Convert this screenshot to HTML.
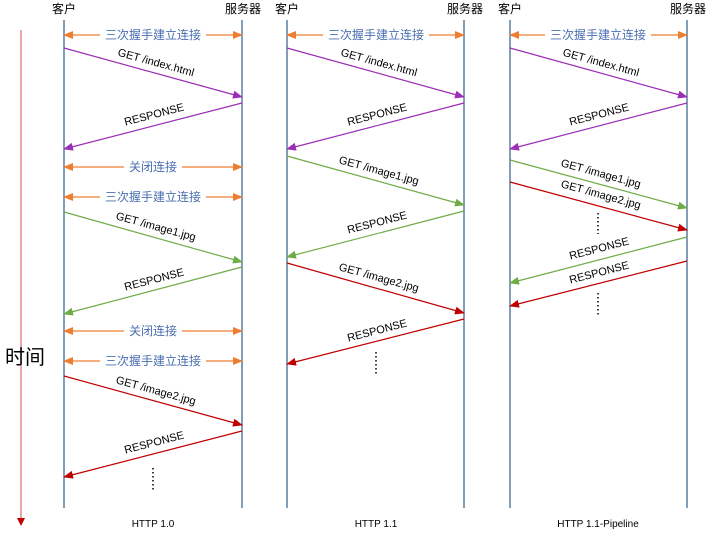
<!DOCTYPE html>
<html><head><meta charset="utf-8"><style>
html,body{margin:0;padding:0;background:#fff;}
svg{display:block;font-family:"Liberation Sans","Noto Sans CJK SC",sans-serif;}
</style></head><body>
<svg width="714" height="540" viewBox="0 0 714 540" xmlns="http://www.w3.org/2000/svg">
<defs>
<marker id="mp" markerWidth="10" markerHeight="8" refX="9" refY="4" orient="auto" markerUnits="userSpaceOnUse"><path d="M0,0L10,4L0,8z" fill="#9b2fb5"/></marker>
<marker id="mg" markerWidth="10" markerHeight="8" refX="9" refY="4" orient="auto" markerUnits="userSpaceOnUse"><path d="M0,0L10,4L0,8z" fill="#6fac46"/></marker>
<marker id="mr" markerWidth="10" markerHeight="8" refX="9" refY="4" orient="auto" markerUnits="userSpaceOnUse"><path d="M0,0L10,4L0,8z" fill="#c00000"/></marker>
<marker id="mo" markerWidth="10" markerHeight="8" refX="9" refY="4" orient="auto-start-reverse" markerUnits="userSpaceOnUse"><path d="M0,0L10,4L0,8z" fill="#ed7d31"/></marker>
<marker id="mt" markerWidth="8" markerHeight="8" refX="4" refY="7" orient="0" markerUnits="userSpaceOnUse"><path d="M0,0L8,0L4,8z" fill="#c00000"/></marker>
</defs>
<line x1="21" y1="30" x2="21" y2="520" stroke="#e08a8a" stroke-width="1.5"/>
<path d="M17,518L25,518L21,526z" fill="#c00000"/>
<text x="5" y="364" font-size="20" fill="#000">时间</text>

<g stroke="#5b7fa0" stroke-width="1.5">
<line x1="64" y1="20" x2="64" y2="508"/><line x1="242" y1="20" x2="242" y2="508"/>
<line x1="287" y1="20" x2="287" y2="508"/><line x1="464" y1="20" x2="464" y2="508"/>
<line x1="510" y1="20" x2="510" y2="508"/><line x1="687" y1="20" x2="687" y2="508"/>
</g>
<g font-size="12" fill="#000" text-anchor="middle">
<text x="64" y="13">客户</text><text x="243" y="13">服务器</text>
<text x="287" y="13">客户</text><text x="465" y="13">服务器</text>
<text x="510" y="13">客户</text><text x="688" y="13">服务器</text>
</g>
<g font-size="10" fill="#000" text-anchor="middle">
<text x="153" y="527">HTTP 1.0</text><text x="376" y="527">HTTP 1.1</text><text x="598" y="527">HTTP 1.1-Pipeline</text>
</g>

<!-- orange double arrows -->
<g stroke="#ed7d31" stroke-width="1.2" fill="none">
<line x1="64" y1="35" x2="242" y2="35" marker-start="url(#mo)" marker-end="url(#mo)"/>
<line x1="64" y1="167" x2="242" y2="167" marker-start="url(#mo)" marker-end="url(#mo)"/>
<line x1="64" y1="197" x2="242" y2="197" marker-start="url(#mo)" marker-end="url(#mo)"/>
<line x1="64" y1="331" x2="242" y2="331" marker-start="url(#mo)" marker-end="url(#mo)"/>
<line x1="64" y1="361" x2="242" y2="361" marker-start="url(#mo)" marker-end="url(#mo)"/>
<line x1="287" y1="35" x2="464" y2="35" marker-start="url(#mo)" marker-end="url(#mo)"/>
<line x1="510" y1="35" x2="687" y2="35" marker-start="url(#mo)" marker-end="url(#mo)"/>
</g>
<g font-size="12" fill="#4a6fb0" text-anchor="middle">
<rect x="100" y="27" width="106" height="16" fill="#fff"/><text x="153" y="39">三次握手建立连接</text>
<rect x="124" y="159" width="58" height="16" fill="#fff"/><text x="153" y="171">关闭连接</text>
<rect x="100" y="189" width="106" height="16" fill="#fff"/><text x="153" y="201">三次握手建立连接</text>
<rect x="124" y="323" width="58" height="16" fill="#fff"/><text x="153" y="335">关闭连接</text>
<rect x="100" y="353" width="106" height="16" fill="#fff"/><text x="153" y="365">三次握手建立连接</text>
<rect x="323" y="27" width="106" height="16" fill="#fff"/><text x="376" y="39">三次握手建立连接</text>
<rect x="545" y="27" width="106" height="16" fill="#fff"/><text x="598" y="39">三次握手建立连接</text>
</g>

<g stroke-width="1.2" fill="none">
<!-- col1 -->
<line x1="64" y1="48" x2="242" y2="97" stroke="#9b2fb5" marker-end="url(#mp)"/>
<line x1="242" y1="103" x2="64" y2="149" stroke="#9b2fb5" marker-end="url(#mp)"/>
<line x1="64" y1="212" x2="242" y2="262" stroke="#6fac46" marker-end="url(#mg)"/>
<line x1="242" y1="267" x2="64" y2="314" stroke="#6fac46" marker-end="url(#mg)"/>
<line x1="64" y1="376" x2="242" y2="425" stroke="#c00000" marker-end="url(#mr)"/>
<line x1="242" y1="431" x2="64" y2="477" stroke="#c00000" marker-end="url(#mr)"/>
<!-- col2 -->
<line x1="287" y1="48" x2="464" y2="97" stroke="#9b2fb5" marker-end="url(#mp)"/>
<line x1="464" y1="103" x2="287" y2="149" stroke="#9b2fb5" marker-end="url(#mp)"/>
<line x1="287" y1="156" x2="464" y2="205" stroke="#6fac46" marker-end="url(#mg)"/>
<line x1="464" y1="211" x2="287" y2="257" stroke="#6fac46" marker-end="url(#mg)"/>
<line x1="287" y1="263" x2="464" y2="313" stroke="#c00000" marker-end="url(#mr)"/>
<line x1="464" y1="319" x2="287" y2="364" stroke="#c00000" marker-end="url(#mr)"/>
<!-- col3 -->
<line x1="510" y1="48" x2="687" y2="97" stroke="#9b2fb5" marker-end="url(#mp)"/>
<line x1="687" y1="103" x2="510" y2="149" stroke="#9b2fb5" marker-end="url(#mp)"/>
<line x1="510" y1="160" x2="687" y2="208" stroke="#6fac46" marker-end="url(#mg)"/>
<line x1="510" y1="182" x2="687" y2="230" stroke="#c00000" marker-end="url(#mr)"/>
<line x1="687" y1="237" x2="510" y2="283" stroke="#6fac46" marker-end="url(#mg)"/>
<line x1="687" y1="261" x2="510" y2="306" stroke="#c00000" marker-end="url(#mr)"/>
</g>
<g stroke="#000" stroke-width="1.5" stroke-dasharray="1.5 2.5">
<line x1="153" y1="468" x2="153" y2="491"/>
<line x1="376" y1="352" x2="376" y2="375"/>
<line x1="598" y1="213" x2="598" y2="234"/>
<line x1="598" y1="293" x2="598" y2="316"/>
</g>

<g font-size="11" fill="#000" text-anchor="middle">
<text transform="translate(155,66) rotate(15.4)">GET /index.html</text>
<text transform="translate(155,118) rotate(-14.5)">RESPONSE</text>
<text transform="translate(155,230) rotate(15.4)">GET /image1.jpg</text>
<text transform="translate(155,283) rotate(-14.5)">RESPONSE</text>
<text transform="translate(155,394) rotate(15.4)">GET /image2.jpg</text>
<text transform="translate(155,446) rotate(-14.5)">RESPONSE</text>

<text transform="translate(378,66) rotate(15.4)">GET /index.html</text>
<text transform="translate(378,118) rotate(-14.5)">RESPONSE</text>
<text transform="translate(378,174) rotate(15.4)">GET /image1.jpg</text>
<text transform="translate(378,226) rotate(-14.5)">RESPONSE</text>
<text transform="translate(378,281) rotate(15.4)">GET /image2.jpg</text>
<text transform="translate(378,334) rotate(-14.5)">RESPONSE</text>

<text transform="translate(600,66) rotate(15.4)">GET /index.html</text>
<text transform="translate(600,118) rotate(-14.5)">RESPONSE</text>
<text transform="translate(600,177) rotate(15.4)">GET /image1.jpg</text>
<text transform="translate(600,198) rotate(15.4)">GET /image2.jpg</text>
<text transform="translate(600,252) rotate(-14.5)">RESPONSE</text>
<text transform="translate(600,276) rotate(-14.5)">RESPONSE</text>
</g>
</svg>
</body></html>
